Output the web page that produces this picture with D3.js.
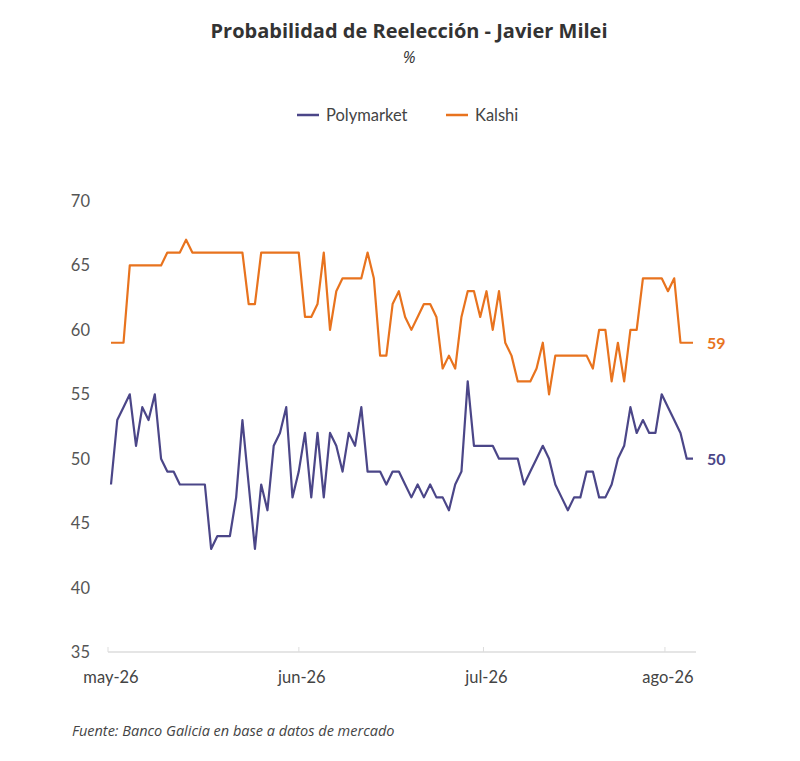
<html>
<head>
<script src="https://d3js.org/d3.v7.min.js"></script>
<style>
  body { margin: 0; background: #fff; }
  text { font-family: Lato, "Open Sans", sans-serif; }
  .wide { font-family: "Open Sans", sans-serif; }
</style>
</head>
<body>
<svg id="chart" width="800" height="761"></svg>
<script>
// daily readings, may 1 onward
var polymarket = [48,53,54,55,51,54,53,55,50,49,49,48,48,48,48,48,43,44,44,44,
  47,53,48,43,48,46,51,52,54,47,49,52,47,52,47,52,51,49,52,51,
  54,49,49,49,48,49,49,48,47,48,47,48,47,47,46,48,49,56,51,51,
  51,51,50,50,50,50,48,49,50,51,50,48,47,46,47,47,49,49,47,47,
  48,50,51,54,52,53,52,52,55,54,53,52,50,50];
var kalshi = [59,59,59,65,65,65,65,65,65,66,66,66,67,66,66,66,66,66,66,66,
  66,66,62,62,66,66,66,66,66,66,66,61,61,62,66,60,63,64,64,64,
  64,66,64,58,58,62,63,61,60,61,62,62,61,57,58,57,61,63,63,61,
  63,60,63,59,58,56,56,56,57,59,55,58,58,58,58,58,58,57,60,60,
  56,59,56,60,60,64,64,64,64,63,64,59,59,59];
var tickIdx = [0, 30.5, 60, 89];
var tickLabels = ["may-26", "jun-26", "jul-26", "ago-26"];
var yTicks = [35, 40, 45, 50, 55, 60, 65, 70];

var svg = d3.select("#chart");
var x = d3.scaleLinear().domain([0, polymarket.length - 1]).range([111, 693]);
var y = d3.scaleLinear().domain([35, 70]).range([652, 201]);

svg.append("text").attr("class", "wide").attr("x", 409).attr("y", 38).attr("text-anchor", "middle")
  .attr("font-size", 20).attr("font-weight", "bold").attr("fill", "#333")
  .text("Probabilidad de Reelección - Javier Milei");
svg.append("text").attr("class", "wide").attr("x", 409).attr("y", 63).attr("text-anchor", "middle")
  .attr("font-size", 16).attr("font-style", "italic").attr("fill", "#333").text("%");

// legend
var legend = [["Polymarket", "#4b4688", 297], ["Kalshi", "#e8731e", 446]];
legend.forEach(function(l) {
  svg.append("line").attr("x1", l[2]).attr("x2", l[2] + 22).attr("y1", 115).attr("y2", 115)
    .attr("stroke", l[1]).attr("stroke-width", 2.5);
  svg.append("text").attr("x", l[2] + 29).attr("y", 121).attr("font-size", 16.5)
    .attr("fill", "#444").text(l[0]);
});

// y axis labels
svg.selectAll(".yl").data(yTicks).enter().append("text")
  .attr("x", 90).attr("y", function(d){ return y(d) + 6; })
  .attr("text-anchor", "end").attr("font-size", 16.5).attr("fill", "#555")
  .text(function(d){ return d; });

// x axis
svg.append("line").attr("x1", 108).attr("x2", 696).attr("y1", 652).attr("y2", 652)
  .attr("stroke", "#ddd").attr("stroke-width", 1.5);
tickIdx.forEach(function(t, i) {
  svg.append("line").attr("x1", x(t) - 3).attr("x2", x(t) - 3).attr("y1", 647).attr("y2", 652)
    .attr("stroke", "#ddd");
  svg.append("text").attr("x", x(t)).attr("y", 683).attr("text-anchor", "middle")
    .attr("font-size", 16.5).attr("fill", "#444").text(tickLabels[i]);
});

var line = d3.line().x(function(d, i){ return x(i); }).y(function(d){ return y(d); });
[[kalshi, "#e8731e"], [polymarket, "#4b4688"]].forEach(function(s) {
  svg.append("path").attr("d", line(s[0])).attr("fill", "none")
    .attr("stroke", s[1]).attr("stroke-width", 2.2).attr("stroke-linejoin", "round");
  var last = s[0][s[0].length - 1];
  svg.append("text").attr("x", 707).attr("y", y(last) + 6).attr("font-size", 16)
    .attr("font-weight", "bold").attr("fill", s[1]).text(last);
});

svg.append("text").attr("class", "wide").attr("x", 72).attr("y", 736).attr("font-size", 14.5)
  .attr("font-style", "italic").attr("fill", "#444")
  .text("Fuente: Banco Galicia en base a datos de mercado");
</script>
</body>
</html>
